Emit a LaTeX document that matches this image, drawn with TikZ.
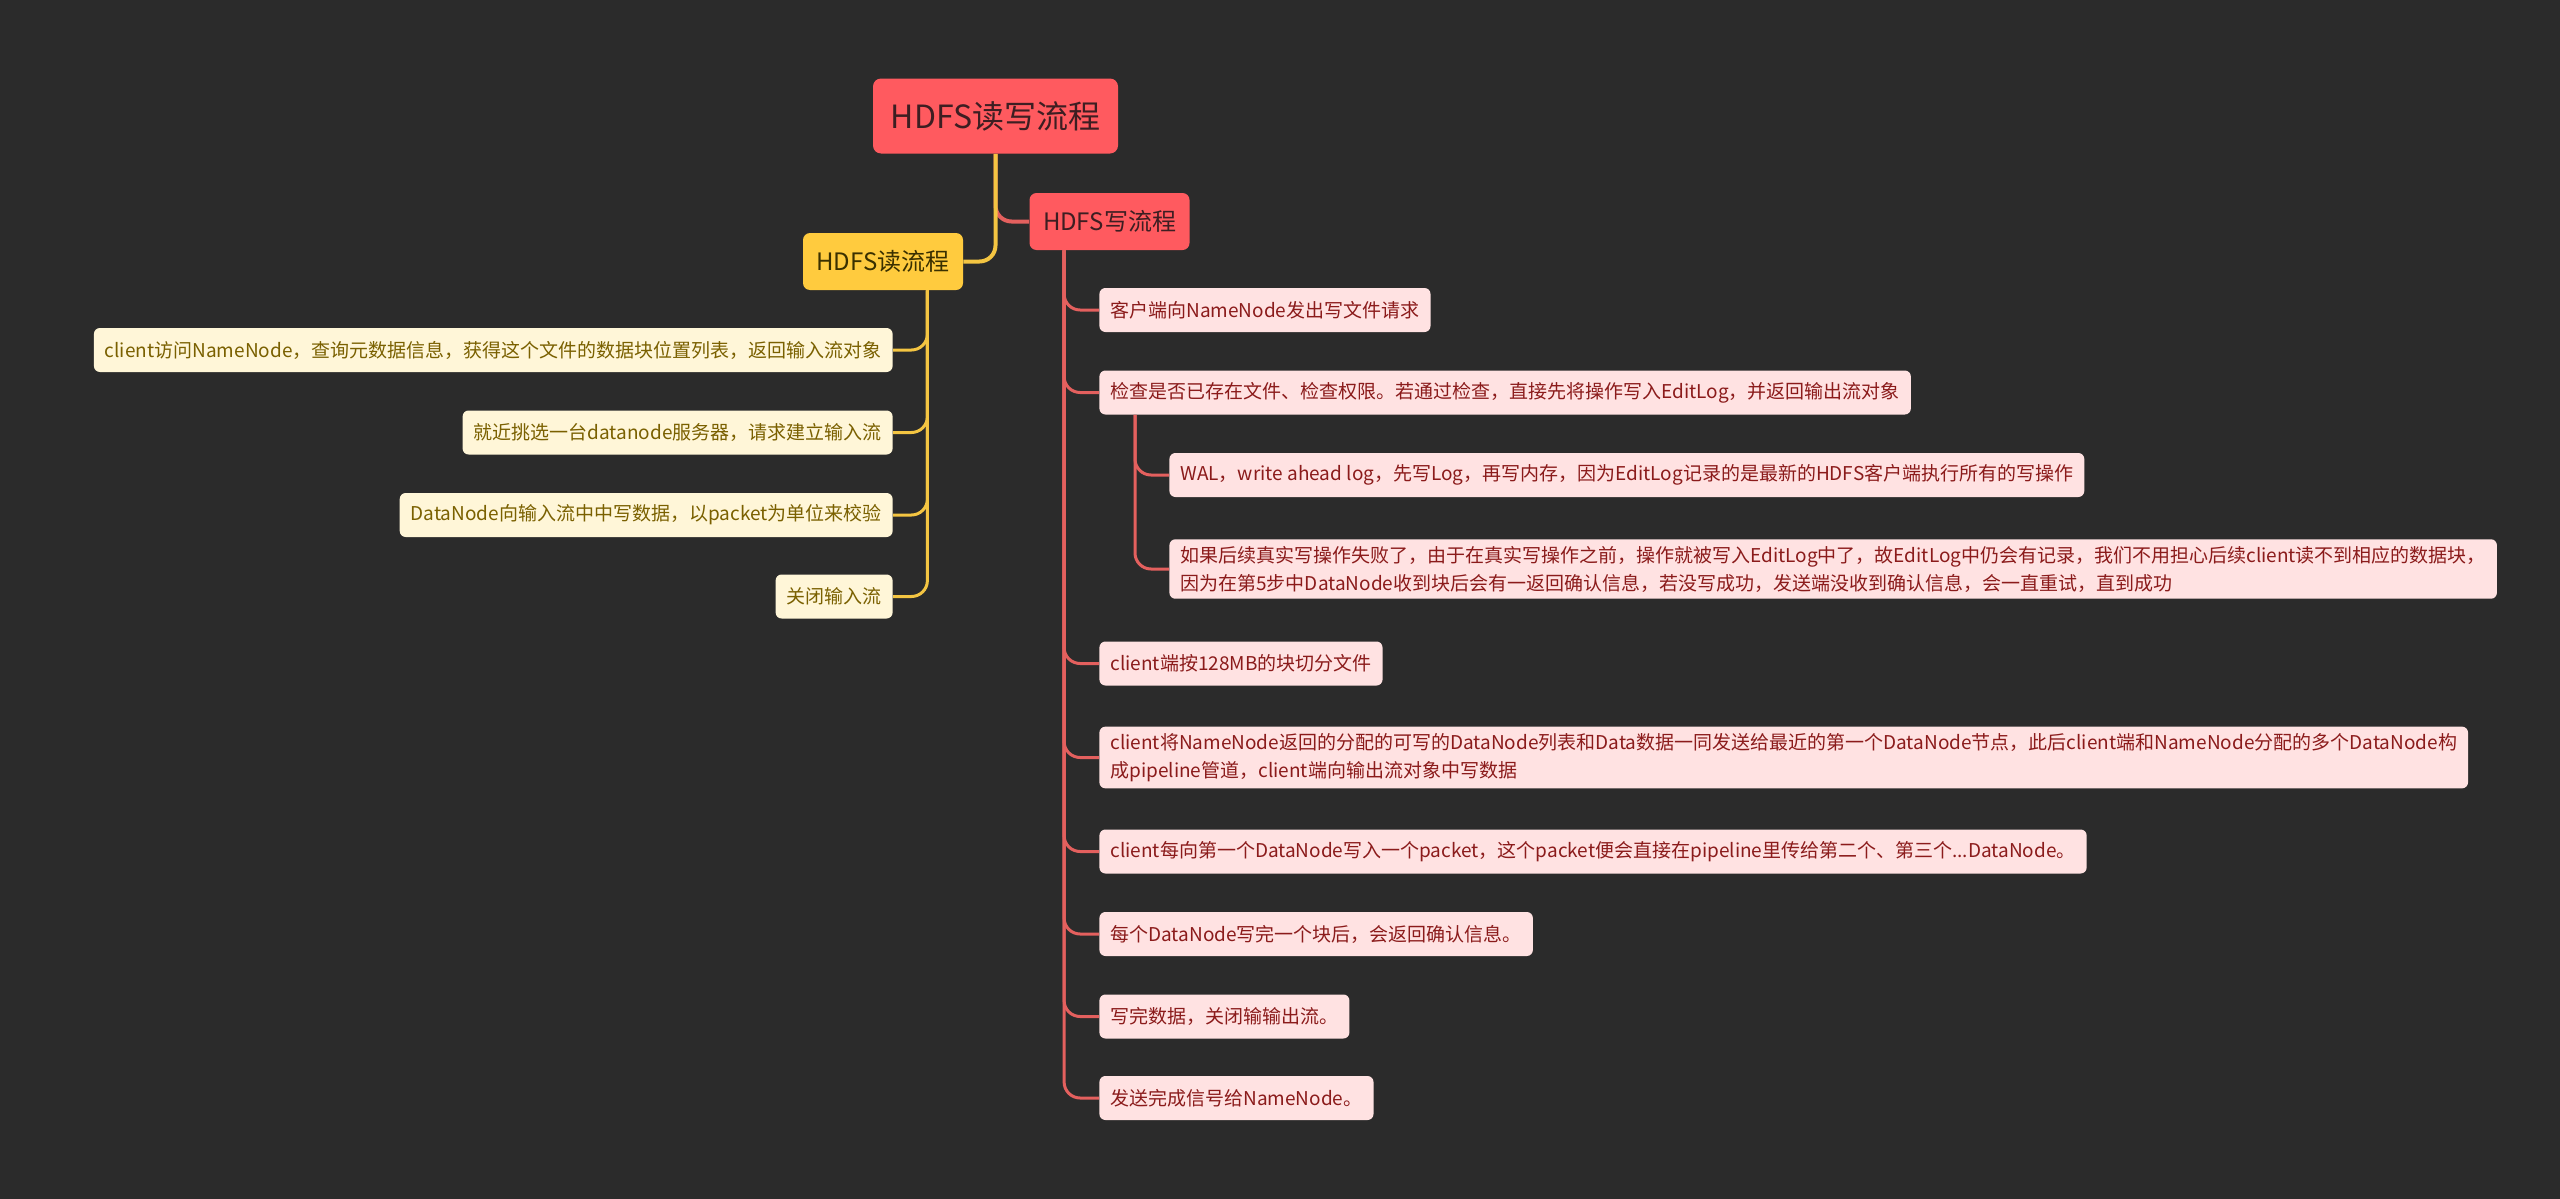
\documentclass[tikz,border=0pt]{standalone}
\usepackage{fontspec}
\setmainfont{Noto Sans CJK SC}
\usepackage{xcolor}
\usepackage{tikz}
\usetikzlibrary{positioning, calc}

\definecolor{bgdark}{HTML}{2B2B2B}
\definecolor{topicred}{HTML}{FF5A5F}
\definecolor{topictext}{HTML}{3D1E22}
\definecolor{readgold}{HTML}{FFCB3E}
\definecolor{readtext}{HTML}{3A3000}
\definecolor{readleaf}{HTML}{FFF6D8}
\definecolor{readleaftext}{HTML}{7A6000}
\definecolor{writeleaf}{HTML}{FFE2E2}
\definecolor{writeleaftext}{HTML}{8B1B1B}
\definecolor{redline}{HTML}{E4605E}
\definecolor{goldline}{HTML}{F4C542}

\begin{document}
\begin{tikzpicture}[x=0.5pt, y=-0.5pt,
    topic/.style={rounded corners=4pt, fill=topicred, text=topictext,
      font=\fontsize{16}{19}\selectfont, minimum width=122.5pt, minimum height=37.5pt},
    branch/.style={rounded corners=3.5pt, font=\fontsize{12}{14}\selectfont,
      minimum width=80pt, minimum height=28.5pt},
    leaf/.style={rounded corners=3pt, inner xsep=5.5pt, minimum height=22pt,
      font=\fontsize{9.5}{14}\selectfont, align=left},
    rleaf/.style={leaf, fill=readleaf, text=readleaftext, anchor=east},
    wleaf/.style={leaf, fill=writeleaf, text=writeleaftext, anchor=west},
    rlink/.style={goldline, line width=1.5pt, rounded corners=8pt},
    wlink/.style={redline, line width=1.5pt, rounded corners=8pt}
  ]
    % Background
    \fill[bgdark] (0,0) rectangle (2560,1199);

    % Central topic
    \node[topic] (root) at (995.5,116) {HDFS读写流程};

    % Main branches
    \node[branch, fill=topicred, text=topictext] (wr) at (1109.5,221.5) {HDFS写流程};
    \node[branch, fill=readgold, text=readtext] (rd) at (883,261.5) {HDFS读流程};

    % Read leaves
    \node[rleaf] (r1) at (893,350) {client访问NameNode，查询元数据信息，获得这个文件的数据块位置列表，返回输入流对象};
    \node[rleaf] (r2) at (893,432.5) {就近挑选一台datanode服务器，请求建立输入流};
    \node[rleaf] (r3) at (893,515) {DataNode向输入流中中写数据，以packet为单位来校验};
    \node[rleaf] (r4) at (893,596.5) {关闭输入流};

    % Write leaves
    \node[wleaf] (w1) at (1099,310) {客户端向NameNode发出写文件请求};
    \node[wleaf] (w2) at (1099,392.5) {检查是否已存在文件、检查权限。若通过检查，直接先将操作写入EditLog，并返回输出流对象};
    \node[wleaf] (w2a) at (1169,475) {WAL，write ahead log，先写Log，再写内存，因为EditLog记录的是最新的HDFS客户端执行所有的写操作};
    \node[wleaf] (w2b) at (1169,569) {如果后续真实写操作失败了，由于在真实写操作之前，操作就被写入EditLog中了，故EditLog中仍会有记录，我们不用担心后续client读不到相应的数据块，\\因为在第5步中DataNode收到块后会有一返回确认信息，若没写成功，发送端没收到确认信息，会一直重试，直到成功};
    \node[wleaf] (w3) at (1099,663.5) {client端按128MB的块切分文件};
    \node[wleaf] (w4) at (1099,757.5) {client将NameNode返回的分配的可写的DataNode列表和Data数据一同发送给最近的第一个DataNode节点，此后client端和NameNode分配的多个DataNode构\\成pipeline管道，client端向输出流对象中写数据};
    \node[wleaf] (w5) at (1099,851.5) {client每向第一个DataNode写入一个packet，这个packet便会直接在pipeline里传给第二个、第三个...DataNode。};
    \node[wleaf] (w6) at (1099,934) {每个DataNode写完一个块后，会返回确认信息。};
    \node[wleaf] (w7) at (1099,1016.5) {写完数据，关闭输输出流。};
    \node[wleaf] (w8) at (1099,1098) {发送完成信号给NameNode。};

    % Trunk points
    \coordinate (rdt) at ([xshift=-18pt]rd.south east);
    \coordinate (wrt) at ([xshift=17.5pt]wr.south west);
    \coordinate (w2t) at ([xshift=18pt]w2.south west);

    % Links from the central topic
    \draw[wlink, line width=2pt] (root.south) |- (wr.west);
    \draw[rlink, line width=2pt] (root.south) |- (rd.east);

    % Read links
    \foreach \leaf in {r1,r2,r3,r4}
      \draw[rlink] (rdt) |- (\leaf.east);

    % Write links
    \foreach \leaf in {w1,w2,w3,w4,w5,w6,w7,w8}
      \draw[wlink] (wrt) |- (\leaf.west);
    \foreach \leaf in {w2a,w2b}
      \draw[wlink] (w2t) |- (\leaf.west);
\end{tikzpicture}
\end{document}
